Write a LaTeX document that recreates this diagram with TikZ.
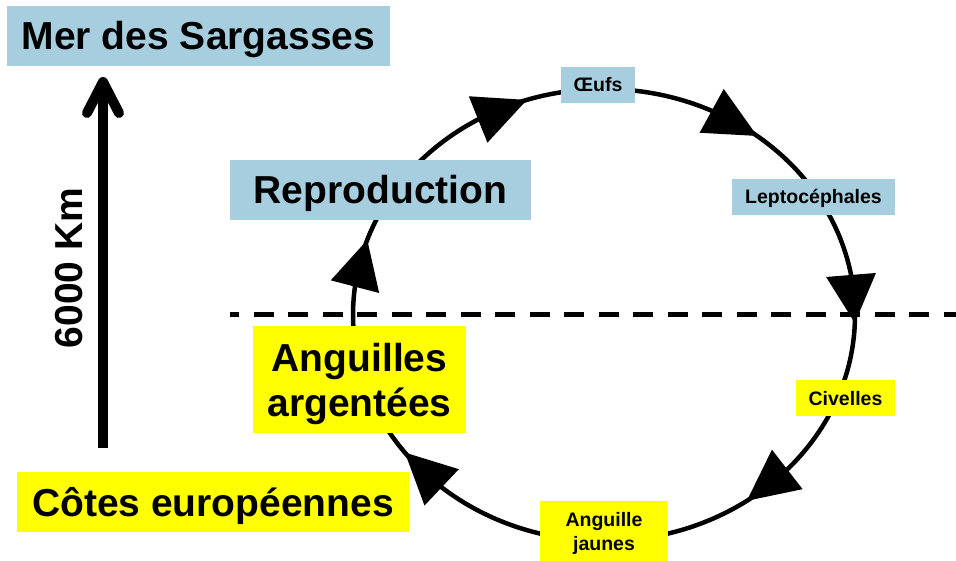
\documentclass[tikz,border=0pt]{standalone}
\usepackage{fontspec}
\setmainfont{Liberation Sans}
\usetikzlibrary{calc}
\definecolor{lblue}{RGB}{166,206,222}
\definecolor{lyellow}{RGB}{255,255,0}
\tikzset{
  bigtxt/.style={font=\fontsize{39}{45}\selectfont\bfseries, text height=28pt, text depth=0pt, inner sep=0pt, align=center},
  smalltxt/.style={font=\fontsize{19.5}{24}\selectfont\bfseries, text height=14pt, text depth=0pt, inner sep=0pt, align=center},
  bluebox/.style={fill=lblue},
  yellowbox/.style={fill=lyellow},
  cycleline/.style={line width=4.5pt},
  dashline/.style={line width=5pt, dash pattern=on 20pt off 14.5pt, dash phase=11pt},
  shaft/.style={line width=10pt},
  chevron/.style={line width=10pt, line cap=round, line join=round},
}
\begin{document}
\begin{tikzpicture}[x=1pt,y=-1pt]
\useasboundingbox (0,0) rectangle (956,561);
% dashed separation line
\coordinate (dl) at (230,315);
\coordinate (dr) at (956,315);
\draw[dashline] (dl) -- (dr);
% cycle
\coordinate (cc) at (604,315);
\draw[cycleline] (cc) ellipse [x radius=251, y radius=226];
\foreach \t in {107.9,52.4,-2,-55.3,-142.5,160.6}{
  \coordinate (T) at ({604+251*cos(\t)},{315-226*sin(\t)});
  \coordinate (B) at ({604+251*cos(\t+12.2)},{315-226*sin(\t+12.2)});
  \fill (T) -- ($(B)!25pt!90:(T)$) -- ($(B)!25pt!-90:(T)$) -- cycle;
}
% distance arrow
\coordinate (abot) at (103,448);
\coordinate (atop) at (103,82);
\draw[shaft] (abot) -- (atop);
\draw[chevron] ($(atop)+(-16,31)$) -- (atop) -- ($(atop)+(16,31)$);
\node[bigtxt, rotate=90] (km) at (68,268) {6000 Km};
% boxes
\node[bigtxt, bluebox, minimum width=383pt, minimum height=60pt] (sarg) at (198.5,36) {Mer des Sargasses};
\node[bigtxt, bluebox, minimum width=301pt, minimum height=60pt] (repro) at (380.5,190) {Reproduction};
\node[bigtxt, yellowbox, text height=73pt, minimum width=213pt, minimum height=107pt] (argent) at (359.5,379.5) {Anguilles\\argentées};
\node[bigtxt, yellowbox, minimum width=392pt, minimum height=60pt] (cotes) at (213,502) {Côtes européennes};
\node[smalltxt, bluebox, minimum width=74pt, minimum height=36pt] (oeufs) at (598,85) {Œufs};
\node[smalltxt, bluebox, minimum width=163pt, minimum height=36pt] (lepto) at (813.5,197) {Leptocéphales};
\node[smalltxt, yellowbox, minimum width=99pt, minimum height=36pt] (civ) at (845.5,398) {Civelles};
\node[smalltxt, yellowbox, text height=38pt, minimum width=128pt, minimum height=60pt] (jaunes) at (604,531) {Anguille\\jaunes};
\end{tikzpicture}
\end{document}
